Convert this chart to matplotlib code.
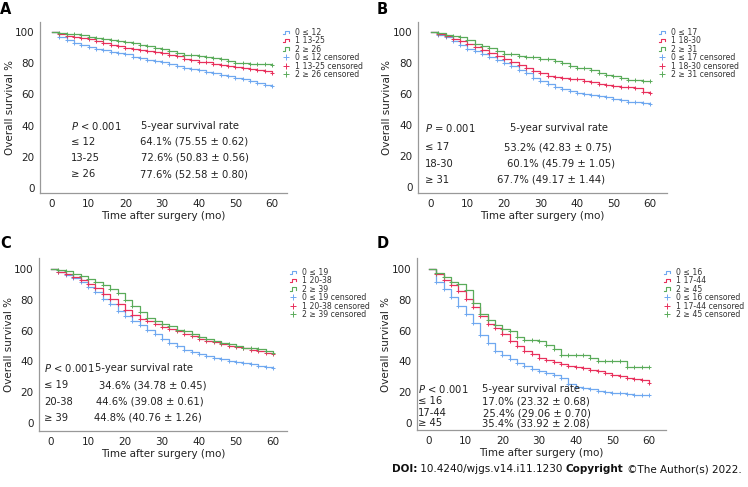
import matplotlib
matplotlib.use("Agg")
import matplotlib.pyplot as plt
from matplotlib.lines import Line2D
from matplotlib.legend_handler import HandlerBase

# ---------------------------------------------------------------------------
# Data (overall survival %, every 2 months)
# ---------------------------------------------------------------------------
months = [0, 2, 4, 6, 8, 10, 12, 14, 16, 18, 20, 22, 24, 26, 28, 30,
          32, 34, 36, 38, 40, 42, 44, 46, 48, 50, 52, 54, 56, 58, 60]

a_low = [100, 97, 95, 93, 91.5, 90.3, 89.3, 88.3, 87.3, 86.5, 85.6, 84.2, 83.1, 82.3, 81.5, 80.5,
         79.6, 78.3, 77, 76.2, 75.5, 74.5, 73.5, 72.6, 71.8, 70.8, 69.8, 68.6, 67.2, 66, 65.5]
a_mid = [100, 98.5, 97.5, 96.8, 96.2, 95.5, 94.3, 93, 91.8, 90.8, 89.8, 89, 88.4, 87.8, 87, 86.3,
         85.5, 84.5, 83, 82, 81, 80.8, 79.6, 78.8, 78.3, 77.8, 77, 76.5, 75.8, 75.2, 74]
a_high = [100, 99.5, 99, 98.5, 97.8, 97, 96.3, 95.5, 94.8, 94.3, 93.8, 92.8, 91.8, 90.8, 89.7, 89,
          88, 86.8, 85.5, 85, 84.3, 83.8, 83.3, 82.5, 81.3, 80, 80, 79.8, 79.5, 79.2, 79]

b_low = [100, 98, 96.5, 94.3, 91.5, 88.7, 87.5, 85.5, 83.8, 82, 80, 78, 75.5, 73.2, 70.5, 68.3,
         66.2, 64.5, 63, 61.8, 60.8, 60, 59.5, 58.7, 57.8, 57, 56, 55, 54.5, 54, 53.4]
b_mid = [100, 98.5, 97.3, 95.7, 94, 91.9, 90, 88.5, 86.5, 84.5, 82.5, 80.5, 78.5, 77, 75, 73.5,
         71.8, 71, 70.5, 69.8, 69.3, 68.5, 67.5, 66.3, 65.5, 65, 64.5, 64.3, 64.1, 61, 60.5]
b_high = [100, 99, 98, 97.2, 96.5, 95, 92.5, 91, 89.7, 87.5, 86, 85.5, 84.5, 84, 83.5, 82.8,
          82.3, 81.5, 80, 78, 77, 76.5, 75.5, 73.5, 72.5, 71.5, 70.5, 69, 68.8, 68.5, 68.4]

c_low = [100, 98, 96.3, 94, 91.5, 88.5, 85, 80.5, 77, 73, 69.5, 66.3, 63.5, 60.5, 58, 54.8,
         52, 49.8, 47.3, 46, 44.8, 43.5, 42.5, 41.5, 40.5, 39.7, 38.8, 38, 37, 36.2, 35.6]
c_mid = [100, 98.2, 96.5, 95, 93, 90.5, 87.5, 84, 80.5, 77, 73.5, 70, 67.8, 66.5, 64.5, 62.5,
         60.8, 59.5, 58, 56.2, 54.8, 53.5, 52.3, 51.5, 50.3, 49.5, 48.5, 47.6, 46.5, 45.5, 44.9]
c_high = [100, 99.5, 98.5, 97, 95.3, 93.5, 91.5, 89.3, 87, 84.5, 80, 76, 72.3, 68, 66, 64.5,
          62.8, 60.3, 59.5, 57.5, 55.5, 54.5, 53, 52, 51, 49.8, 49, 48.5, 47.8, 46.5, 45.4]

d_low = [100, 91.5, 87, 81.5, 76, 70.5, 65, 57, 52, 47, 44, 41.5, 39, 37, 35.3, 34,
         32.5, 31, 29, 25.5, 23.5, 22.8, 21.8, 21, 20.2, 19.6, 19.2, 18.8, 18.5, 18.2, 17.9]
d_mid = [100, 96.5, 93, 89.5, 86, 80.5, 75, 69.5, 64.5, 61.5, 57.5, 53.5, 50, 47, 44.5, 42.5,
         40.8, 39.5, 38.3, 37.3, 36.5, 35.7, 34.5, 33.5, 32.3, 31.2, 30.3, 29.5, 28.8, 27.8, 26.3]
d_high = [100, 97.5, 94.5, 91.5, 90.5, 86.5, 78, 71, 67, 63.5, 61, 60, 56, 54, 54, 53.5,
          50.5, 47.8, 44.3, 44.3, 44.3, 44, 42.5, 40, 40, 40, 40, 36.7, 36.7, 36.7, 36.7]

a_groups = ["≤ 12", "13-25", "≥ 26"]
b_groups = ["≤ 17", "18-30", "≥ 31"]
c_groups = ["≤ 19", "20-38", "≥ 39"]
d_groups = ["≤ 16", "17-44", "≥ 45"]

a_rates = ["64.1% (75.55 ± 0.62)", "72.6% (50.83 ± 0.56)", "77.6% (52.58 ± 0.80)"]
b_rates = ["53.2% (42.83 ± 0.75)", "60.1% (45.79 ± 1.05)", "67.7% (49.17 ± 1.44)"]
c_rates = ["34.6% (34.78 ± 0.45)", "44.6% (39.08 ± 0.61)", "44.8% (40.76 ± 1.26)"]
d_rates = ["17.0% (23.32 ± 0.68)", "25.4% (29.06 ± 0.70)", "35.4% (33.92 ± 2.08)"]

a_p = "$P$ < 0.001"
b_p = "$P$ = 0.001"
c_p = "$P$ < 0.001"
d_p = "$P$ < 0.001"

COLORS = ["#6fa8f0", "#e8305c", "#5aab5a"]

W, H = 748, 487
fig = plt.figure(figsize=(W / 100, H / 100), dpi=100)


def fx(px):
    return px / W


def fy(py):
    return 1 - py / H


class StepHandler(HandlerBase):
    def create_artists(self, legend, orig, xd, yd, w, h, fontsize, trans):
        x0, y0 = -xd, -yd
        xs = [x0, x0 + 0.35 * w, x0 + 0.35 * w, x0 + w, x0 + w]
        ys = [y0 + 0.2 * h, y0 + 0.2 * h, y0 + 0.8 * h, y0 + 0.8 * h, y0 + 0.4 * h]
        ln = Line2D(xs, ys, color=orig.get_color(), lw=0.8)
        ln.set_transform(trans)
        return [ln]


def km_panel(box, xlim, ylim, series, groups, rates, ptxt, txt_rows, col1, col2s,
             leg_pos, letter, letter_pos, ylab_right):
    left, top, right, bottom = box
    ax = fig.add_axes([fx(left), fy(bottom), fx(right - left), (bottom - top) / H])
    for vals, col in zip(series, COLORS):
        ax.plot(months, vals, drawstyle="steps-post", color=col, lw=0.9)
        ax.plot(months[1:], vals[1:], ls="none", marker="+", ms=3.5, mew=0.7, color=col)
    ax.set_xlim(*xlim)
    ax.set_ylim(*ylim)
    ax.set_xticks([0, 10, 20, 30, 40, 50, 60])
    ax.set_yticks([0, 20, 40, 60, 80, 100])
    for s in ["top", "right"]:
        ax.spines[s].set_visible(False)
    for s in ["left", "bottom"]:
        ax.spines[s].set_color("#999999")
        ax.spines[s].set_linewidth(0.9)
    ax.tick_params(length=0, labelsize=7.5, colors="#222222")
    ax.tick_params(axis="y", pad=4)
    ax.tick_params(axis="x", pad=4)
    ax.set_xlabel("Time after surgery (mo)", fontsize=7.5, labelpad=2, color="#222222")
    ax.set_ylabel("Overall survival %", fontsize=7.5, color="#222222")
    ax.yaxis.set_label_coords((ylab_right - left) / (right - left), 0.5)

    # annotation block
    fig.text(fx(col1), fy(txt_rows[0]), ptxt, fontsize=7.2, va="center", color="#222222")
    fig.text(fx(col2s[0]), fy(txt_rows[0]), "5-year survival rate", fontsize=7.2,
             va="center", color="#222222")
    for i in range(3):
        fig.text(fx(col1), fy(txt_rows[i + 1]), groups[i], fontsize=7.2, va="center",
                 color="#222222")
        fig.text(fx(col2s[i + 1]), fy(txt_rows[i + 1]), rates[i], fontsize=7.2,
                 va="center", color="#222222")

    # legend
    handles, labels = [], []
    for i, col in enumerate(COLORS):
        handles.append(Line2D([], [], color=col, lw=0.8))
        labels.append(f"{i} {groups[i]}")
    for i, col in enumerate(COLORS):
        handles.append(Line2D([], [], ls="none", marker="+", ms=4, mew=0.7, color=col))
        labels.append(f"{i} {groups[i]} censored")
    hmap = {h: StepHandler() for h in handles[:3]}
    ax.legend(handles, labels, handler_map=hmap, loc="upper left",
              bbox_to_anchor=(fx(leg_pos[0]), fy(leg_pos[1])), bbox_transform=fig.transFigure,
              frameon=False, fontsize=5.6, labelspacing=-0.08, handlelength=0.8,
              handletextpad=0.8, borderpad=0, borderaxespad=0, labelcolor="#333333")

    fig.text(fx(letter_pos[0]), fy(letter_pos[1]), letter, fontsize=10.5,
             fontweight="bold", va="center", ha="left")
    return ax


km_panel((40, 22, 287, 193), (-3.27, 64.1), (-3.2, 106.4), [a_low, a_mid, a_high],
         a_groups, a_rates, a_p, [126, 142, 158, 174], 71, [141, 140, 141, 140],
         (283, 28), "A", (0, 10), 15)
km_panel((418, 22, 667, 193), (-3.56, 64.7), (-4.0, 106.4), [b_low, b_mid, b_high],
         b_groups, b_rates, b_p, [128, 147, 164, 180], 425, [510, 504, 507, 497],
         (659, 28), "B", (377, 10), 392)
km_panel((39, 258, 287, 431), (-3.24, 63.8), (-5.2, 107.1), [c_low, c_mid, c_high],
         c_groups, c_rates, c_p, [368, 385, 402, 418], 44, [95, 99, 96, 94],
         (290, 268), "C", (0, 243), 14)
km_panel((417, 258, 666, 430), (-3.27, 64.6), (-4.5, 107.1), [d_low, d_mid, d_high],
         d_groups, d_rates, d_p, [389, 401, 413, 423], 418, [482, 482, 483, 482],
         (664, 268), "D", (377, 243), 391)

# footer with mixed bold / regular pieces
fig.canvas.draw()
renderer = fig.canvas.get_renderer()
pieces = [("DOI:", "bold"), (" 10.4240/wjgs.v14.i11.1230 ", "normal"),
          ("Copyright", "bold"), (" ©The Author(s) 2022.", "normal")]
xpos = 392
for txt, wt in pieces:
    t = fig.text(fx(xpos), fy(469), txt, fontsize=7.5, fontweight=wt, va="center",
                 color="#111111")
    xpos += t.get_window_extent(renderer).width

fig.savefig("out.png", dpi=100, facecolor="white")
